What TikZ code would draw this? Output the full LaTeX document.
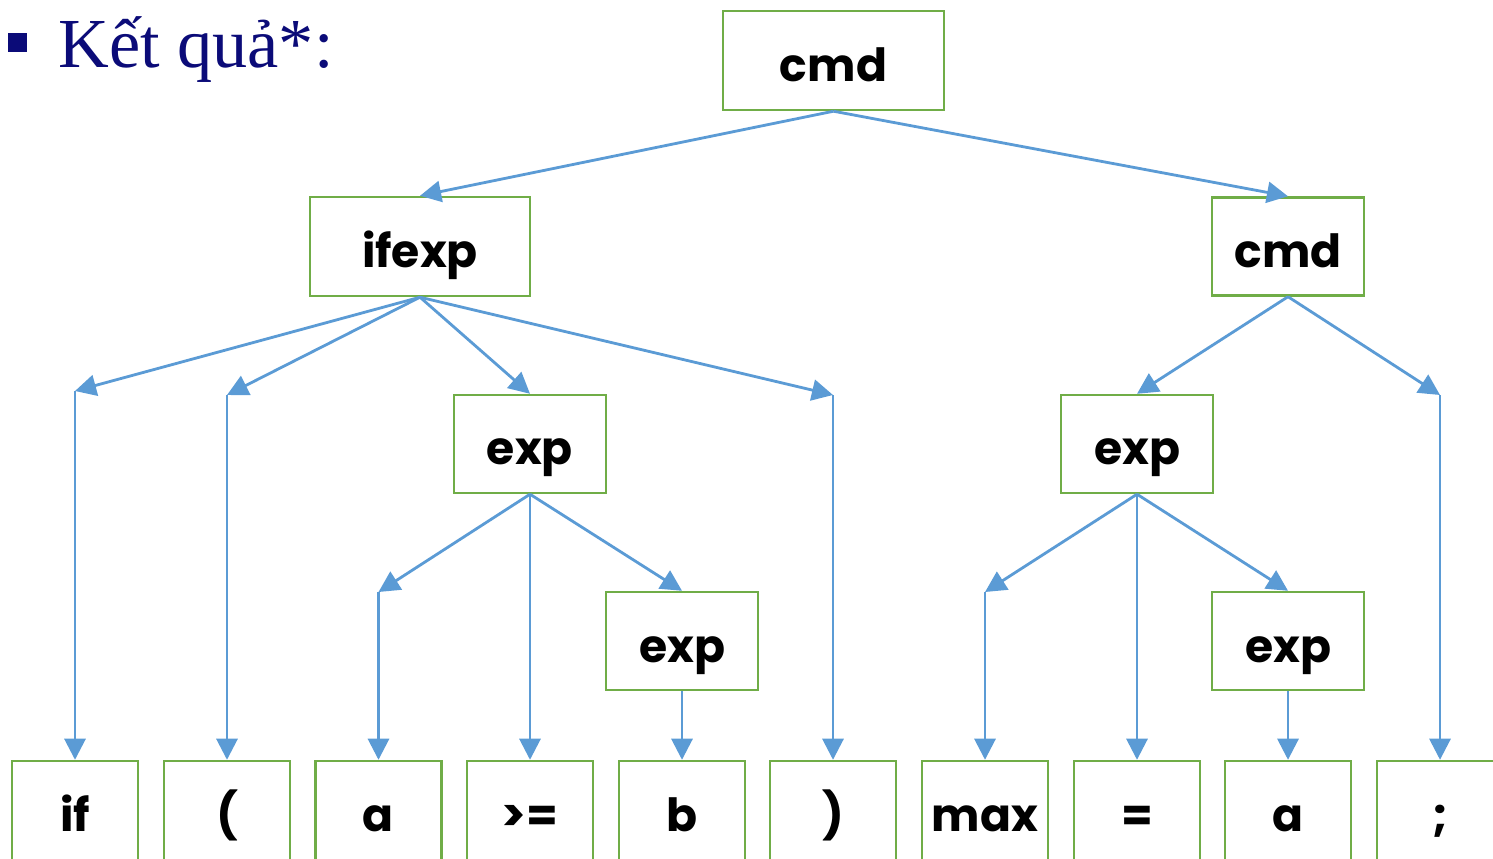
\documentclass[tikz,border=0pt]{standalone}
\usepackage{fontspec}
\setmainfont{Liberation Serif}
\newfontfamily\boxfont{Poppins}
\usetikzlibrary{arrows.meta}
\definecolor{boxgreen}{HTML}{70AD47}
\definecolor{arrowblue}{HTML}{5B9BD5}
\definecolor{titlenavy}{HTML}{0B0B78}

\begin{document}
\begin{tikzpicture}[x=0.02cm,y=-0.02cm]
\tikzset{
tree node/.style={draw=boxgreen,line width=1.4pt,inner sep=0pt,minimum width=3.04cm,minimum height=1.96cm,
  text height=0.84cm,text depth=0cm,font=\boxfont\bfseries\fontsize{26}{30}\selectfont},
wide node/.style={tree node,minimum width=4.42cm,minimum height=1.98cm},
leaf node/.style={tree node,minimum width=2.52cm,minimum height=1.98cm},
tree arrow/.style={draw=arrowblue,line width=1.6pt,-{Triangle[length=12pt,width=12pt]}}
}
\useasboundingbox (0,0) rectangle (1493,858);

% title
\node(bullet)[fill=titlenavy,minimum size=0.38cm,inner sep=0pt] at (17.5,42.5) {};
\node(title)[anchor=base west,text=titlenavy,font=\fontsize{40}{44}\selectfont,inner sep=0pt] at (58,68) {Kết quả*:};

% inner nodes
\node(cmd)[wide node] at (833.5,60.5) {cmd};
\node(ifexp)[wide node,minimum width=4.4cm] at (420,246.5) {ifexp};
\node(cmdr)[tree node] at (1288,246.5) {cmd};
\node(expa)[tree node] at (530,444) {exp};
\node(expb)[tree node] at (1137,444) {exp};
\node(expc)[tree node] at (682,641) {exp};
\node(expd)[tree node] at (1288,641) {exp};

% leaves
\node(if)[leaf node] at (75,810.5) {if};
\node(lpar)[leaf node] at (227,810.5) {(};
\node(a)[leaf node] at (378.5,810.5) {a};
\node(ge)[leaf node] at (530,810.5) {>=};
\node(b)[leaf node] at (682,810.5) {b};
\node(rpar)[leaf node] at (833,810.5) {)};
\node(max)[leaf node] at (985,810.5) {max};
\node(eq)[leaf node] at (1137,810.5) {=};
\node(ar)[leaf node] at (1288,810.5) {a};
\node(semi)[leaf node] at (1440,810.5) {;};

% bend points
\coordinate(p-if) at (75,391);
\coordinate(p-lpar) at (227,395);
\coordinate(p-rpar) at (833,395);
\coordinate(p-a) at (378.5,592);
\coordinate(p-max) at (985,592);
\coordinate(p-semi) at (1440,395);

\draw[tree arrow] (cmd.south) -- (ifexp.north);
\draw[tree arrow] (cmd.south) -- (cmdr.north);

\draw[tree arrow] (ifexp.south) -- (p-if);
\draw[tree arrow] (p-if) -- (if.north);
\draw[tree arrow] (ifexp.south) -- (p-lpar);
\draw[tree arrow] (p-lpar) -- (lpar.north);
\draw[tree arrow] (ifexp.south) -- (expa.north);
\draw[tree arrow] (ifexp.south) -- (p-rpar);
\draw[tree arrow] (p-rpar) -- (rpar.north);

\draw[tree arrow] (expa.south) -- (p-a);
\draw[tree arrow] (p-a) -- (a.north);
\draw[tree arrow] (expa.south) -- (ge.north);
\draw[tree arrow] (expa.south) -- (expc.north);
\draw[tree arrow] (expc.south) -- (b.north);

\draw[tree arrow] (cmdr.south) -- (expb.north);
\draw[tree arrow] (cmdr.south) -- (p-semi);
\draw[tree arrow] (p-semi) -- (semi.north);

\draw[tree arrow] (expb.south) -- (p-max);
\draw[tree arrow] (p-max) -- (max.north);
\draw[tree arrow] (expb.south) -- (eq.north);
\draw[tree arrow] (expb.south) -- (expd.north);
\draw[tree arrow] (expd.south) -- (ar.north);
\end{tikzpicture}
\end{document}
